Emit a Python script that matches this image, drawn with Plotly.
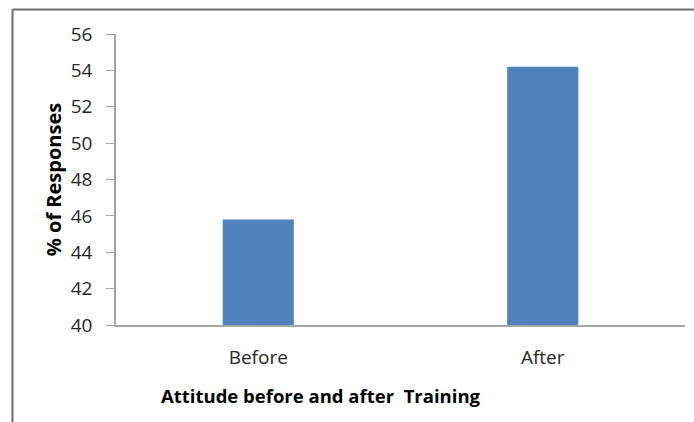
import plotly.graph_objects as go

# Survey results: share of positive-attitude responses
categories = ["Before", "After"]
responses = [45.8, 54.2]
y_ticks = [40, 42, 44, 46, 48, 50, 52, 54, 56]

W, H = 694, 422
L, R, T, B = 116, 9, 34, 97
pw = W - L - R
ph = H - T - B

fig = go.Figure(
    go.Bar(
        x=categories,
        y=responses,
        marker=dict(color="#4f81bd", line=dict(width=0)),
        width=0.25,
    )
)

fig.update_layout(
    width=W,
    height=H,
    margin=dict(l=L, r=R, t=T, b=B),
    paper_bgcolor="white",
    plot_bgcolor="white",
    showlegend=False,
    font=dict(family="Open Sans", color="#262626"),
)

fig.update_yaxes(
    range=[40, 56],
    tickvals=y_ticks,
    ticks="outside",
    ticklen=8,
    tickcolor="#a6a6a6",
    ticklabelstandoff=10,
    showline=True,
    linecolor="#a6a6a6",
    linewidth=1.5,
    showgrid=False,
    zeroline=False,
    tickfont=dict(size=19, color="#262626"),
    title=dict(
        text="<b>% of Responses</b>",
        font=dict(size=20, color="black"),
        standoff=4,
    ),
)

fig.update_xaxes(
    showline=True,
    linecolor="#a6a6a6",
    linewidth=1.5,
    ticks="",
    ticklabelstandoff=14,
    showgrid=False,
    tickfont=dict(size=19, color="#262626"),
)

# x-axis caption
fig.add_annotation(
    text="<b>Attitude before and after\u00a0 Training</b>",
    xref="paper", yref="paper",
    x=(321 - L) / pw, y=-(395 - (T + ph)) / ph,
    xanchor="center", yanchor="middle",
    showarrow=False,
    font=dict(size=18.5, color="black"),
)

# chart frame (left and top edges)
fx = (12.5 - L) / pw
fy = 1 + (T - 9.5) / ph
fig.add_shape(type="line", xref="paper", yref="paper",
              x0=fx, x1=fx, y0=fy, y1=-(B + 5) / ph,
              line=dict(color="#6e6e6e", width=2))
fig.add_shape(type="line", xref="paper", yref="paper",
              x0=fx, x1=1 + (R + 5) / pw, y0=fy, y1=fy,
              line=dict(color="#6e6e6e", width=2))

fig.write_html("out.html")
